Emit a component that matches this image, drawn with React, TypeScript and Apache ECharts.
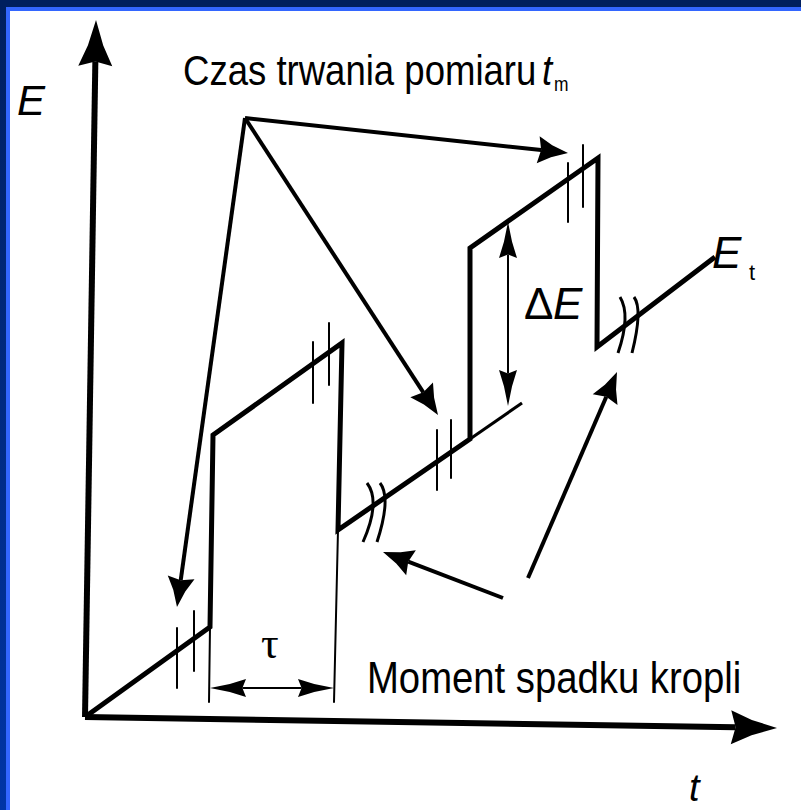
import React, { useEffect, useRef } from "react";
import * as echarts from "echarts";

// ---------- diagram data (t, E in figure units) ----------
// axes arrows: tail -> tip
const axisTailT = [85, 85];
const axisTailE = [717, 717];
const axisTipT = [96, 777];
const axisTipE = [20, 728];

// potential waveform vertices
const waveT = [85, 210, 213, 342, 338, 470, 470, 598, 597, 715];
const waveE = [717, 627, 435, 343, 530, 439, 248, 158, 347, 257];

// continuation of the base ramp under the 2nd pulse
const rampExtT = [470, 522];
const rampExtE = [439, 403];

// current sampling marks (thin vertical strokes)
const sampleT = [177, 194, 313, 329, 437, 451, 568, 583];
const sampleTop = [628, 611, 342, 323, 430, 420, 163, 145];
const sampleBot = [688, 671, 403, 385, 490, 478, 222, 207];

// drop-time guide lines
const guideT1 = [210, 338];
const guideE1 = [627, 530];
const guideT2 = [209, 334];
const guideE2 = [702, 702];

// dimension arrows (double headed): tau and delta E
const dimT1 = [210, 508];
const dimE1 = [688, 222];
const dimT2 = [334, 508];
const dimE2 = [688, 406];

// pointer arrows
const ptrTailT = [245, 245, 245, 503, 528];
const ptrTailE = [118, 118, 118, 598, 578];
const ptrTipT = [177, 438, 568, 383, 617];
const ptrTipE = [607, 415, 153, 552, 372];

// break marks ")" : top, middle, bottom points
const brkTopT = [367, 380, 620, 634];
const brkTopE = [483, 483, 297, 297];
const brkMidT = [373, 385, 625, 638];
const brkMidE = [507, 505, 320, 317];
const brkBotT = [363, 377, 618, 632];
const brkBotE = [542, 542, 353, 353];

// ---------- helpers ----------
function head(tip: number[], from: number[], L: number, Wd: number) {
  const dx = tip[0] - from[0];
  const dy = tip[1] - from[1];
  const len = Math.hypot(dx, dy) || 1;
  const ux = dx / len, uy = dy / len;
  const nx = -uy, ny = ux;
  const hw = Wd / 2;
  const bx = tip[0] - ux * L, by = tip[1] - uy * L;
  const mx = tip[0] - ux * L * 0.55, my = tip[1] - uy * L * 0.55;
  const notch = 0.1 * L;
  const base = [bx + ux * notch, by + uy * notch];
  return {
    points: [
      tip,
      [mx + nx * hw * 0.45, my + ny * hw * 0.45],
      [bx + nx * hw, by + ny * hw],
      base,
      [bx - nx * hw, by - ny * hw],
      [mx - nx * hw * 0.45, my - ny * hw * 0.45],
    ],
    base,
  };
}

function arrowSeries(
  rows: number[][],
  shaft: number,
  L: number,
  Wd: number,
  both: boolean
) {
  return {
    type: "custom",
    coordinateSystem: "cartesian2d",
    silent: true,
    data: rows,
    renderItem: (params: any, api: any) => {
      const a = api.coord([api.value(0), api.value(1)]);
      const b = api.coord([api.value(2), api.value(3)]);
      const hb = head(b, a, L, Wd);
      const children: any[] = [];
      let start = a;
      if (both) {
        const ha = head(a, b, L, Wd);
        start = ha.base;
        children.push({ type: "polygon", shape: { points: ha.points }, style: { fill: "#000" } });
      }
      children.push({
        type: "line",
        shape: { x1: start[0], y1: start[1], x2: hb.base[0], y2: hb.base[1] },
        style: { stroke: "#000", lineWidth: shaft, lineCap: "butt" },
      });
      children.push({ type: "polygon", shape: { points: hb.points }, style: { fill: "#000" } });
      return { type: "group", children };
    },
  };
}

function segmentSeries(rows: number[][], width: number) {
  return {
    type: "custom",
    coordinateSystem: "cartesian2d",
    silent: true,
    data: rows,
    renderItem: (params: any, api: any) => {
      const a = api.coord([api.value(0), api.value(1)]);
      const b = api.coord([api.value(2), api.value(3)]);
      return {
        type: "line",
        shape: { x1: a[0], y1: a[1], x2: b[0], y2: b[1] },
        style: { stroke: "#000", lineWidth: width, lineCap: "round" },
      };
    },
  };
}

const FONT = '"Liberation Sans", Arial, sans-serif';

export default function App() {
  const ref = useRef<HTMLDivElement>(null);
  useEffect(() => {
    if (!ref.current) return;
    const chart = echarts.init(ref.current, null, { renderer: "svg" });

    const wave = waveT.map((t, i) => [t, waveE[i]]);
    const ramp = rampExtT.map((t, i) => [t, rampExtE[i]]);
    const axesRows = axisTailT.map((t, i) => [t, axisTailE[i], axisTipT[i], axisTipE[i]]);
    const ptrRows = ptrTailT.map((t, i) => [t, ptrTailE[i], ptrTipT[i], ptrTipE[i]]);
    const dimRows = dimT1.map((t, i) => [t, dimE1[i], dimT2[i], dimE2[i]]);
    const sampleRows = sampleT.map((t, i) => [t, sampleTop[i], t, sampleBot[i]]);
    const guideRows = guideT1.map((t, i) => [t, guideE1[i], guideT2[i], guideE2[i]]);
    const brkRows = brkTopT.map((t, i) => [
      t, brkTopE[i], brkMidT[i], brkMidE[i], brkBotT[i], brkBotE[i],
    ]);

    const txt = (
      text: string,
      x: number,
      y: number,
      size: number,
      opts: any = {}
    ) => ({
      type: "text",
      x,
      y,
      scaleX: opts.scaleX ?? 1,
      silent: true,
      z: 10,
      style: {
        text,
        fill: "#000",
        font: `${opts.italic ? "italic " : ""}${size}px ${opts.family ?? FONT}`,
        textAlign: "left",
        textVerticalAlign: "middle",
        verticalAlign: "middle",
      },
    });

    chart.setOption({
      animation: false,
      backgroundColor: "#ffffff",
      grid: { left: 0, right: 0, top: 0, bottom: 0 },
      xAxis: { type: "value", min: 0, max: 801, show: false },
      yAxis: { type: "value", min: 0, max: 810, inverse: true, show: false },
      graphic: [
        {
          type: "rect",
          shape: { x: 0, y: 0, width: 6, height: 810 },
          style: {
            fill: new echarts.graphic.LinearGradient(0, 0, 0, 1, [
              { offset: 0, color: "#001f5e" },
              { offset: 1, color: "#0035a6" },
            ]),
          },
          silent: true,
        },
        {
          type: "rect",
          shape: { x: 6, y: 7, width: 4, height: 803 },
          style: { fill: "#3366ff" },
          silent: true,
        },
        {
          type: "rect",
          shape: { x: 0, y: 0, width: 801, height: 7 },
          style: { fill: "#001f5e" },
          silent: true,
        },
        {
          type: "rect",
          shape: { x: 6, y: 7, width: 795, height: 4 },
          style: { fill: "#3366ff" },
          silent: true,
        },
        txt("E", 17, 100, 42, { italic: true }),
        txt("Czas trwania pomiaru", 183, 70, 42, { scaleX: 0.87 }),
        txt("t", 542, 70, 42, { italic: true, scaleX: 0.87 }),
        txt("m", 554, 84, 20, { scaleX: 0.87 }),
        txt("E", 712, 252, 44, { italic: true }),
        txt("t", 749, 272, 22),
        txt("\u0394", 524, 303, 44),
        txt("E", 553, 303, 44, { italic: true }),
        txt("\u03c4", 261, 643, 44, { family: '"Liberation Serif", serif' }),
        txt("Moment spadku kropli", 367, 678, 44, { scaleX: 0.87 }),
        txt("t", 689, 788, 38, { italic: true }),
      ],
      series: [
        {
          type: "line",
          data: wave,
          symbol: "none",
          showSymbol: false,
          silent: true,
          lineStyle: { color: "#000", width: 5, join: "miter", cap: "butt" },
          z: 3,
        },
        {
          type: "line",
          data: ramp,
          symbol: "none",
          showSymbol: false,
          silent: true,
          lineStyle: { color: "#000", width: 3 },
          z: 3,
        },
        segmentSeries(sampleRows, 2),
        segmentSeries(guideRows, 2),
        arrowSeries(axesRows, 6, 46, 34, false),
        arrowSeries(ptrRows, 4, 30, 27, false),
        arrowSeries(dimRows, 2, 36, 18, true),
        {
          type: "custom",
          coordinateSystem: "cartesian2d",
          silent: true,
          data: brkRows,
          renderItem: (params: any, api: any) => {
            const t = api.coord([api.value(0), api.value(1)]);
            const m = api.coord([api.value(2), api.value(3)]);
            const b = api.coord([api.value(4), api.value(5)]);
            const cx = 2 * m[0] - (t[0] + b[0]) / 2;
            const cy = 2 * m[1] - (t[1] + b[1]) / 2;
            return {
              type: "bezierCurve",
              shape: { x1: t[0], y1: t[1], x2: b[0], y2: b[1], cpx1: cx, cpy1: cy },
              style: { stroke: "#000", lineWidth: 3, fill: null },
            };
          },
        },
      ],
    });
    return () => chart.dispose();
  }, []);

  return (
    <div
      ref={ref}
      style={{ position: "absolute", left: 0, top: 0, width: 801, height: 810 }}
    />
  );
}
